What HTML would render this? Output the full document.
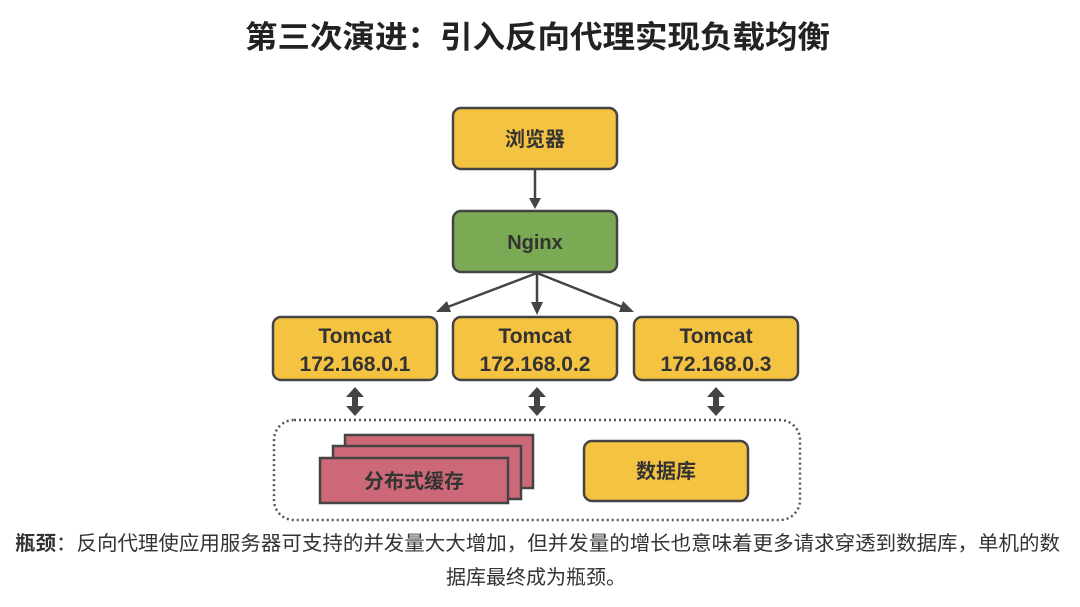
<!DOCTYPE html>
<html><head><meta charset="utf-8"><style>
html,body{margin:0;padding:0;background:#fff;}
svg{display:block;}
text{font-family:"Liberation Sans","Noto Sans CJK SC",sans-serif;}
</style></head><body>
<svg width="1080" height="607" viewBox="0 0 1080 607" xmlns="http://www.w3.org/2000/svg">
<text x="245" y="48" font-size="31" font-weight="bold" fill="#222" textLength="585" lengthAdjust="spacingAndGlyphs">第三次演进：引入反向代理实现负载均衡</text>

<rect x="453" y="108" width="164" height="61" rx="8" fill="#F5C342" stroke="#444" stroke-width="2.5"/>
<text x="535" y="146" text-anchor="middle" font-size="20" font-weight="bold" fill="#333">浏览器</text>
<line x1="535" y1="170" x2="535" y2="200" stroke="#444" stroke-width="2.5"/>
<path d="M529,198 L541,198 L535,209 z" fill="#444"/>

<rect x="453" y="211" width="164" height="61" rx="8" fill="#7BAA55" stroke="#444" stroke-width="2.5"/>
<text x="535" y="249" text-anchor="middle" font-size="20" font-weight="bold" fill="#333">Nginx</text>

<line x1="537" y1="273" x2="445" y2="308" stroke="#444" stroke-width="2.5"/>
<path d="M436,312 L447,301 L451,312 z" fill="#444"/>
<line x1="537" y1="273" x2="537" y2="305" stroke="#444" stroke-width="2.5"/>
<path d="M531,302 L543,302 L537,315 z" fill="#444"/>
<line x1="537" y1="273" x2="625" y2="308" stroke="#444" stroke-width="2.5"/>
<path d="M634,312 L623,301 L619,312 z" fill="#444"/>

<g font-size="21" font-weight="bold" fill="#333" text-anchor="middle">
<rect x="273" y="317" width="164" height="63" rx="8" fill="#F5C342" stroke="#444" stroke-width="2.5"/>
<text x="355" y="343">Tomcat</text><text x="355" y="371">172.168.0.1</text>
<rect x="453" y="317" width="164" height="63" rx="8" fill="#F5C342" stroke="#444" stroke-width="2.5"/>
<text x="535" y="343">Tomcat</text><text x="535" y="371">172.168.0.2</text>
<rect x="634" y="317" width="164" height="63" rx="8" fill="#F5C342" stroke="#444" stroke-width="2.5"/>
<text x="716" y="343">Tomcat</text><text x="716" y="371">172.168.0.3</text>
</g>

<g fill="#444">
<path d="M355,387 L364,397 L358,397 L358,406 L364,406 L355,416 L346,406 L352,406 L352,397 L346,397 z"/>
<path d="M537,387 L546,397 L540,397 L540,406 L546,406 L537,416 L528,406 L534,406 L534,397 L528,397 z"/>
<path d="M716,387 L725,397 L719,397 L719,406 L725,406 L716,416 L707,406 L713,406 L713,397 L707,397 z"/>
</g>

<rect x="274" y="420" width="526" height="100" rx="20" fill="none" stroke="#555" stroke-width="2.5" stroke-dasharray="2,3"/>

<rect x="345" y="435" width="188" height="53" fill="#CD6878" stroke="#444" stroke-width="2.5"/>
<rect x="333" y="446" width="188" height="53" fill="#CD6878" stroke="#444" stroke-width="2.5"/>
<rect x="320" y="458" width="188" height="45" fill="#CD6878" stroke="#444" stroke-width="2.5"/>
<text x="414" y="488" text-anchor="middle" font-size="20" font-weight="bold" fill="#333">分布式缓存</text>

<rect x="584" y="441" width="164" height="60" rx="8" fill="#F5C342" stroke="#444" stroke-width="2.5"/>
<text x="666" y="478" text-anchor="middle" font-size="20" font-weight="bold" fill="#333">数据库</text>

<text x="15" y="550" font-size="20" fill="#333" textLength="1045" lengthAdjust="spacingAndGlyphs"><tspan font-weight="bold">瓶颈</tspan>：反向代理使应用服务器可支持的并发量大大增加，但并发量的增长也意味着更多请求穿透到数据库，单机的数</text>
<text x="446" y="584" font-size="20" fill="#333" textLength="180" lengthAdjust="spacingAndGlyphs">据库最终成为瓶颈。</text>
</svg>
</body></html>
